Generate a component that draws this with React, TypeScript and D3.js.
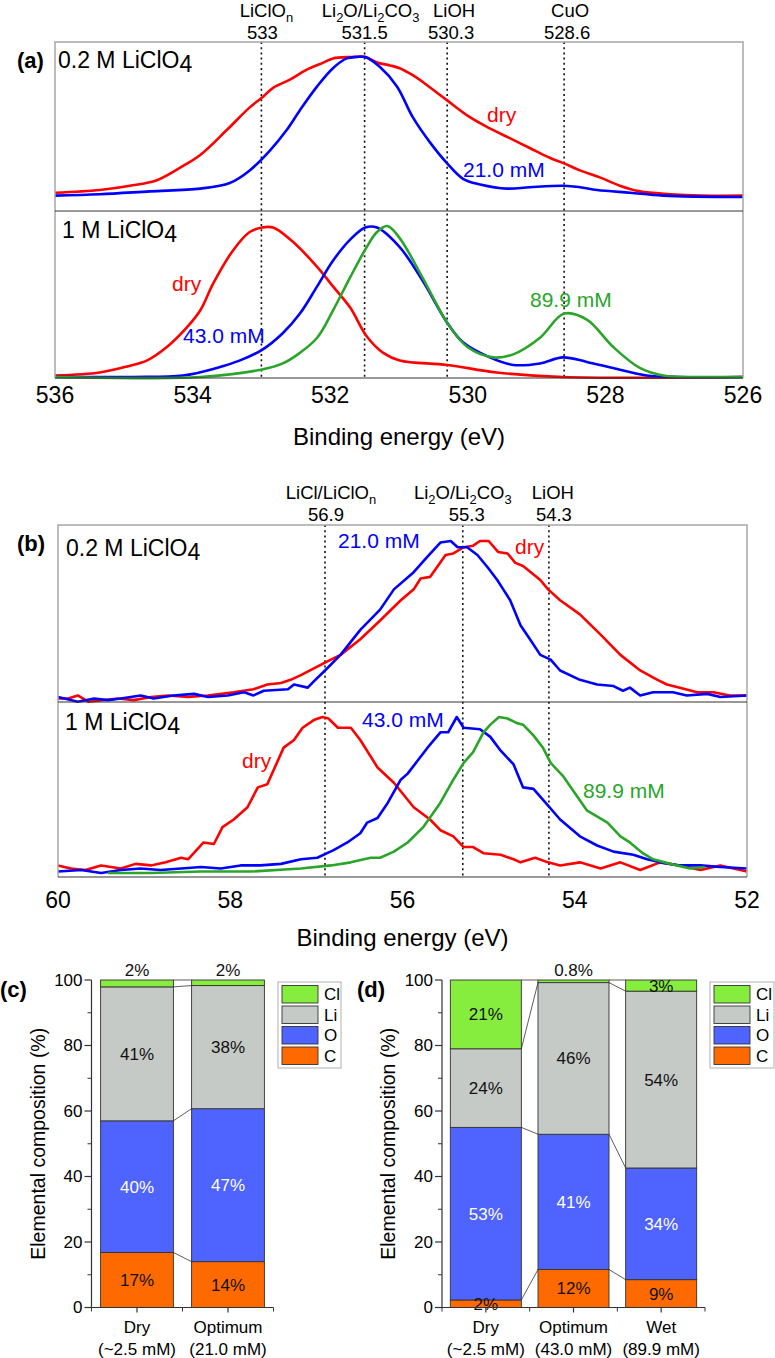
import React from 'react';
import * as d3 from 'd3';

const FONT = '"Liberation Sans", Arial, Helvetica, sans-serif';
const RED = '#ff0000';
const BLUE = '#0000ff';
const GREEN = '#2aa52a';

// ---------- Panel (a): O 1s ----------
const aTicks = [536, 534, 532, 530, 528, 526];
const aRefName = ['LiClO_n', 'Li_2O/Li_2CO_3', 'LiOH', 'CuO'];
const aRefEnergy = [533, 531.5, 530.3, 528.6];

const a02Dry: [number, number][] = [
  [536.0, 0.03], [535.35, 0.05], [534.91, 0.08], [534.52, 0.12], [534.18, 0.21], [533.89, 0.3],
  [533.5, 0.48], [533.17, 0.64], [532.99, 0.71], [532.83, 0.78], [532.58, 0.84], [532.34, 0.91],
  [532.1, 0.96], [531.96, 0.99], [531.71, 1.0], [531.49, 1.0], [531.32, 0.96], [531.13, 0.94],
  [530.99, 0.92], [530.8, 0.87], [530.65, 0.82], [530.3, 0.69], [529.97, 0.57], [529.68, 0.49],
  [529.39, 0.42], [529.1, 0.35], [528.81, 0.28], [528.6, 0.24], [528.37, 0.19], [528.08, 0.14],
  [527.79, 0.08], [527.5, 0.04], [527.06, 0.02], [526.62, 0.01], [526.0, 0.01],
];
const a02Opt: [number, number][] = [
  [536.0, 0.01], [535.35, 0.02], [534.62, 0.04], [533.89, 0.06], [533.46, 0.1], [533.17, 0.19],
  [532.88, 0.33], [532.63, 0.48], [532.44, 0.62], [532.19, 0.79], [531.96, 0.92], [531.76, 0.99],
  [531.61, 1.0], [531.49, 1.0], [531.28, 0.93], [531.03, 0.79], [530.8, 0.57], [530.55, 0.39],
  [530.3, 0.24], [530.07, 0.13], [529.82, 0.09], [529.43, 0.06], [529.1, 0.07], [528.6, 0.08],
  [528.37, 0.07], [528.12, 0.05], [527.64, 0.03], [527.16, 0.01], [526.0, 0.0],
];
const a1Dry: [number, number][] = [
  [536.0, 0.01], [535.35, 0.03], [534.95, 0.07], [534.66, 0.11], [534.37, 0.2], [534.08, 0.33],
  [533.89, 0.44], [533.7, 0.62], [533.41, 0.84], [533.17, 0.96], [532.99, 0.99], [532.83, 0.99],
  [532.58, 0.91], [532.19, 0.73], [531.96, 0.6], [531.71, 0.46], [531.47, 0.27], [531.23, 0.16],
  [530.99, 0.11], [530.3, 0.08], [529.58, 0.03], [528.62, 0.0], [526.0, 0.0],
];
const a1Opt: [number, number][] = [
  [536.0, 0.0], [534.87, 0.0], [534.14, 0.01], [533.65, 0.06], [533.31, 0.11], [532.99, 0.18],
  [532.69, 0.29], [532.44, 0.42], [532.19, 0.6], [531.96, 0.77], [531.71, 0.91], [531.49, 0.99],
  [531.32, 0.99], [530.99, 0.86], [530.66, 0.64], [530.3, 0.36], [530.07, 0.23], [529.68, 0.13],
  [529.34, 0.08], [528.95, 0.09], [528.62, 0.13], [528.27, 0.1], [527.89, 0.06], [527.4, 0.01],
  [526.92, 0.0], [526.0, 0.0],
];
const a1Wet: [number, number][] = [
  [536.0, 0.0], [533.89, 0.0], [532.99, 0.05], [532.69, 0.09], [532.44, 0.16], [532.19, 0.26],
  [531.96, 0.44], [531.71, 0.66], [531.47, 0.86], [531.32, 0.96], [531.17, 1.0], [530.99, 0.92],
  [530.66, 0.66], [530.3, 0.36], [530.01, 0.2], [529.63, 0.13], [529.34, 0.15], [528.95, 0.26],
  [528.6, 0.42], [528.27, 0.38], [527.89, 0.2], [527.5, 0.06], [527.16, 0.01], [526.44, 0.0],
  [526.0, 0.0],
];

// ---------- Panel (b): Li 1s ----------
const bTicks = [60, 58, 56, 54, 52];
const bRefName = ['LiCl/LiClO_n', 'Li_2O/Li_2CO_3', 'LiOH'];
const bRefEnergy = [56.9, 55.3, 54.3];

const b02Dry: [number, number][] = [
  [60.0, -0.01], [59.88, -0.01], [59.77, 0.01], [59.65, -0.03], [59.3, -0.01], [59.12, -0.02],
  [58.92, 0.0], [58.72, 0.01], [58.49, 0.0], [58.26, 0.01], [57.96, 0.03], [57.73, 0.05],
  [57.57, 0.08], [57.41, 0.09], [57.3, 0.11], [57.18, 0.14], [56.9, 0.22], [56.72, 0.27],
  [56.49, 0.37], [56.26, 0.49], [56.02, 0.62], [55.87, 0.69], [55.79, 0.76], [55.68, 0.77],
  [55.5, 0.91], [55.41, 0.92], [55.29, 0.96], [55.18, 0.97], [55.1, 1.0], [55.0, 1.0],
  [54.89, 0.93], [54.78, 0.92], [54.69, 0.86], [54.6, 0.84], [54.4, 0.75], [54.31, 0.69],
  [54.17, 0.62], [53.94, 0.53], [53.7, 0.4], [53.47, 0.27], [53.24, 0.17], [53.04, 0.11],
  [52.93, 0.08], [52.78, 0.06], [52.58, 0.03], [52.39, 0.03], [52.2, 0.01], [52.0, 0.01],
];
const b02Opt: [number, number][] = [
  [60.0, 0.0], [59.77, -0.03], [59.58, -0.01], [59.42, -0.02], [59.27, -0.01], [59.04, 0.01],
  [58.89, -0.01], [58.66, 0.01], [58.42, 0.02], [58.26, 0.0], [58.03, 0.01], [57.84, 0.03],
  [57.73, 0.01], [57.61, 0.04], [57.33, 0.05], [57.26, 0.08], [57.1, 0.06], [57.03, 0.1],
  [56.9, 0.17], [56.72, 0.27], [56.49, 0.43], [56.26, 0.56], [56.1, 0.69], [55.87, 0.8],
  [55.71, 0.9], [55.56, 0.99], [55.44, 1.0], [55.36, 0.96], [55.25, 0.96], [55.13, 0.91],
  [55.01, 0.83], [54.9, 0.75], [54.83, 0.69], [54.75, 0.62], [54.63, 0.46], [54.52, 0.37],
  [54.4, 0.27], [54.28, 0.24], [54.17, 0.17], [53.94, 0.11], [53.74, 0.08], [53.55, 0.07],
  [53.44, 0.04], [53.36, 0.06], [53.24, 0.01], [53.09, 0.03], [52.86, 0.03], [52.7, 0.01],
  [52.46, 0.02], [52.31, 0.0], [52.0, 0.01],
];
const b1Dry: [number, number][] = [
  [60.0, 0.03], [59.85, 0.01], [59.68, 0.0], [59.5, 0.03], [59.27, 0.01], [59.1, 0.04],
  [58.92, 0.03], [58.75, 0.05], [58.57, 0.08], [58.49, 0.07], [58.31, 0.18], [58.19, 0.17],
  [58.09, 0.28], [57.96, 0.33], [57.8, 0.41], [57.68, 0.54], [57.57, 0.56], [57.38, 0.8],
  [57.26, 0.85], [57.16, 0.93], [57.03, 0.98], [56.93, 1.0], [56.86, 0.99], [56.75, 0.93],
  [56.6, 0.93], [56.49, 0.85], [56.29, 0.67], [56.1, 0.57], [55.87, 0.41], [55.68, 0.33],
  [55.56, 0.26], [55.41, 0.22], [55.29, 0.15], [55.18, 0.15], [55.06, 0.11], [54.86, 0.1],
  [54.71, 0.07], [54.63, 0.05], [54.46, 0.08], [54.31, 0.05], [54.17, 0.03], [53.94, 0.05],
  [53.7, 0.01], [53.47, 0.05], [53.24, 0.0], [53.01, 0.05], [52.78, 0.03], [52.54, 0.0],
  [52.31, 0.03], [52.0, -0.01],
];
const b1Opt: [number, number][] = [
  [60.0, -0.01], [59.73, 0.0], [59.5, -0.02], [59.27, 0.0], [59.04, 0.01], [58.81, 0.0],
  [58.57, 0.01], [58.34, 0.02], [58.11, 0.01], [57.88, 0.03], [57.65, 0.03], [57.41, 0.04],
  [57.18, 0.07], [56.99, 0.08], [56.8, 0.13], [56.64, 0.18], [56.49, 0.24], [56.41, 0.31],
  [56.29, 0.34], [56.17, 0.44], [56.02, 0.59], [55.94, 0.63], [55.79, 0.74], [55.68, 0.82],
  [55.56, 0.9], [55.47, 0.9], [55.37, 1.0], [55.29, 0.93], [55.1, 0.92], [54.98, 0.87],
  [54.86, 0.78], [54.71, 0.69], [54.6, 0.54], [54.48, 0.53], [54.37, 0.46], [54.17, 0.33],
  [53.94, 0.22], [53.74, 0.16], [53.55, 0.12], [53.32, 0.1], [53.16, 0.07], [53.01, 0.05],
  [52.78, 0.03], [52.54, 0.03], [52.31, 0.02], [52.0, 0.01],
];
const b1Wet: [number, number][] = [
  [59.42, -0.02], [58.92, -0.02], [58.34, -0.01], [57.76, -0.01], [57.18, 0.01], [56.83, 0.03],
  [56.6, 0.05], [56.37, 0.08], [56.26, 0.08], [56.1, 0.12], [55.94, 0.18], [55.76, 0.28],
  [55.56, 0.44], [55.41, 0.59], [55.29, 0.7], [55.18, 0.77], [55.06, 0.9], [54.98, 0.95],
  [54.88, 1.0], [54.78, 0.99], [54.67, 0.96], [54.6, 0.95], [54.48, 0.88], [54.37, 0.8],
  [54.28, 0.7], [54.13, 0.61], [54.02, 0.52], [53.86, 0.39], [53.62, 0.31], [53.47, 0.22],
  [53.36, 0.18], [53.21, 0.11], [53.09, 0.07], [52.89, 0.04], [52.66, 0.01], [52.49, 0.02],
];

// ---------- Panels (c), (d): elemental composition (%) ----------
const elements = ['C', 'O', 'Li', 'Cl'];
const elementColors = ['#ff6a00', '#4f63ff', '#c6cac7', '#86ec3e'];

const cCats = ['Dry', 'Optimum'];
const cCatSub = ['(~2.5 mM)', '(21.0 mM)'];
const cC = [16.8, 14.0];
const cO = [40.2, 46.7];
const cLi = [40.9, 37.6];
const cCl = [2.1, 1.7];

const dCats = ['Dry', 'Optimum', 'Wet'];
const dCatSub = ['(~2.5 mM)', '(43.0 mM)', '(89.9 mM)'];
const dC = [2.3, 11.6, 8.5];
const dO = [52.7, 41.3, 34.1];
const dLi = [24.0, 46.3, 54.0];
const dCl = [21.0, 0.8, 3.4];

const compTicks = [0, 20, 40, 60, 80, 100];
const compMinor = [10, 30, 50, 70, 90];

// ---------- helpers ----------
function Rich({ text, x, y, size, anchor = 'middle', fill = '#000', weight = 'normal', subShift = 0.3 }: any) {
  const parts: { t: string; mode: string }[] = [];
  let i = 0;
  while (i < text.length) {
    if ((text[i] === '_' || text[i] === '|') && i + 1 < text.length) {
      parts.push({ t: text[i + 1], mode: text[i] === '_' ? 'sub' : 'low' });
      i += 2;
    } else {
      let j = i;
      while (j < text.length && text[j] !== '_' && text[j] !== '|') j++;
      parts.push({ t: text.slice(i, j), mode: 'n' });
      i = j;
    }
  }
  let shift = 0;
  return (
    <text x={x} y={y} fontSize={size} textAnchor={anchor} fill={fill} fontWeight={weight} fontFamily={FONT}>
      {parts.map((p, k) => {
        const target = p.mode === 'sub' ? size * subShift : p.mode === 'low' ? size * 0.17 : 0;
        const dy = target - shift;
        shift = target;
        return (
          <tspan key={k} dy={dy} fontSize={p.mode === 'sub' ? size * 0.7 : size}>
            {p.t}
          </tspan>
        );
      })}
    </text>
  );
}

function SpectrumPanel({ cfg }: any) {
  const xs = d3.scaleLinear().domain(cfg.domain).range([cfg.x0, cfg.x1]);
  const subs = cfg.subs;
  const elems: any[] = [];
  subs.forEach((s: any, si: number) => {
    const ys = d3.scaleLinear().domain([0, 1]).range([s.y0, s.y1]);
    const line = d3
      .line<[number, number]>()
      .x((d) => xs(d[0]))
      .y((d) => ys(d[1]))
      .curve(cfg.smooth ? d3.curveCatmullRom.alpha(0.5) : d3.curveLinear);
    s.series.forEach((ser: any, k: number) => {
      elems.push(
        <path key={`p${si}-${k}`} d={line(ser.data) || ''} fill="none" stroke={ser.color} strokeWidth={2.6} strokeLinejoin="round" />
      );
    });
  });
  return (
    <g>
      {cfg.refE.map((e: number, i: number) => (
        <line key={`r${i}`} x1={xs(e)} x2={xs(e)} y1={cfg.top} y2={cfg.bottom} stroke="#111" strokeWidth={1.6} strokeDasharray="2,3.2" />
      ))}
      {elems}
      <path d={`M${cfg.x0},${cfg.bottom}V${cfg.top}H${cfg.x1}V${cfg.bottom}`} fill="none" stroke="#a6a6a6" strokeWidth={1.5} />
      <line x1={cfg.x0} x2={cfg.x1} y1={cfg.mid} y2={cfg.mid} stroke="#333" strokeWidth={1.2} />
      <line x1={cfg.x0} x2={cfg.x1} y1={cfg.bottom} y2={cfg.bottom} stroke="#333" strokeWidth={1.2} />
      {cfg.refE.map((e: number, i: number) => (
        <g key={`rl${i}`}>
          <Rich text={cfg.refN[i]} x={xs(e) + cfg.refDxName[i]} y={cfg.refNameY} size={18.5} subShift={0.25} />
          <text x={xs(e) + cfg.refDxNum[i]} y={cfg.refNumY} fontSize={18.5} textAnchor="middle" fontFamily={FONT}>
            {String(e)}
          </text>
        </g>
      ))}
      {cfg.ticks.map((t: number) => (
        <text key={`t${t}`} x={xs(t)} y={cfg.tickY} fontSize={23} textAnchor="middle" fontFamily={FONT}>
          {t}
        </text>
      ))}
      <text x={(cfg.x0 + cfg.x1) / 2} y={cfg.titleY} fontSize={24} textAnchor="middle" fontFamily={FONT}>
        Binding energy (eV)
      </text>
      <text x={cfg.tagX} y={cfg.tagY} fontSize={22} fontWeight="bold" fontFamily={FONT}>
        {cfg.tag}
      </text>
      {subs.map((s: any, si: number) => (
        <g key={`s${si}`}>
          <Rich text={s.name} x={s.nameX} y={s.nameY} size={23} anchor="start" />
          {s.series.map((ser: any, k: number) => (
            <text key={k} x={ser.tx} y={ser.ty} fontSize={21} fill={ser.color} fontFamily={FONT}>
              {ser.label}
            </text>
          ))}
        </g>
      ))}
    </g>
  );
}

function fmtPct(v: number) {
  return v < 1 ? `${v.toFixed(1)}%` : `${Math.round(v)}%`;
}

function CompPanel({ cfg }: any) {
  const n = cfg.cats.length;
  const xs = d3.scalePoint<number>().domain(d3.range(n)).range([cfg.xa, cfg.xb]).padding(0.5);
  const step = xs.step();
  const bw = step * cfg.barFrac;
  const ys = d3.scaleLinear().domain([0, 100]).range([cfg.yBottom, cfg.yTop]);
  const stacks = cfg.cats.map((_: string, i: number) => {
    let cum = 0;
    return cfg.values.map((arr: number[]) => {
      const s = { lo: cum, hi: cum + arr[i], v: arr[i] };
      cum += arr[i];
      return s;
    });
  });
  const items: any[] = [];
  stacks.forEach((st: any[], i: number) => {
    const cx = xs(i) as number;
    st.forEach((seg: any, k: number) => {
      items.push(
        <rect key={`b${i}-${k}`} x={cx - bw / 2} y={ys(seg.hi)} width={bw} height={ys(seg.lo) - ys(seg.hi)} fill={elementColors[k]} stroke="#333" strokeWidth={0.9} />
      );
    });
  });
  const connectors: any[] = [];
  for (let i = 0; i < n - 1; i++) {
    const xA = (xs(i) as number) + bw / 2;
    const xB = (xs(i + 1) as number) - bw / 2;
    elements.forEach((_, k) => {
      connectors.push(
        <line key={`c${i}-${k}`} x1={xA} x2={xB} y1={ys(stacks[i][k].hi)} y2={ys(stacks[i + 1][k].hi)} stroke="#333" strokeWidth={0.8} />
      );
    });
  }
  const labels: any[] = [];
  stacks.forEach((st: any[], i: number) => {
    const cx = xs(i) as number;
    st.forEach((seg: any, k: number) => {
      const above = k === elements.length - 1 && seg.v < 2.5;
      const y = above ? ys(100) - 10 : ys((seg.lo + seg.hi) / 2);
      labels.push(
        <text key={`l${i}-${k}`} x={cx} y={y} dy="0.35em" fontSize={17} textAnchor="middle" fill={elements[k] === 'O' ? '#fff' : '#111'} fontFamily={FONT}>
          {fmtPct(seg.v)}
        </text>
      );
    });
  });
  const ticksX: number[] = [];
  for (let i = 0; i <= n; i++) ticksX.push(cfg.xa + i * step);
  const legendOrder = [3, 2, 1, 0];
  return (
    <g fontFamily={FONT}>
      {items}
      {connectors}
      {labels}
      <line x1={cfg.xa} x2={cfg.xa} y1={cfg.yBottom} y2={cfg.yTop} stroke="#333" strokeWidth={1.2} />
      <line x1={cfg.xa} x2={cfg.xb} y1={cfg.yBottom} y2={cfg.yBottom} stroke="#333" strokeWidth={1.2} />
      {compTicks.map((t) => (
        <g key={`yt${t}`}>
          <line x1={cfg.xa - 7} x2={cfg.xa} y1={ys(t)} y2={ys(t)} stroke="#333" strokeWidth={1.2} />
          <text x={cfg.xa - 9} y={ys(t)} dy="0.35em" fontSize={17} textAnchor="end">
            {t}
          </text>
        </g>
      ))}
      {compMinor.map((t) => (
        <line key={`ym${t}`} x1={cfg.xa - 4} x2={cfg.xa} y1={ys(t)} y2={ys(t)} stroke="#333" strokeWidth={1} />
      ))}
      {ticksX.map((x, i) => (
        <line key={`xb${i}`} x1={x} x2={x} y1={cfg.yBottom} y2={cfg.yBottom + 4} stroke="#333" strokeWidth={1} />
      ))}
      {cfg.cats.map((c: string, i: number) => (
        <g key={`xc${i}`}>
          <line x1={xs(i)} x2={xs(i)} y1={cfg.yBottom} y2={cfg.yBottom + 5} stroke="#333" strokeWidth={1.2} />
          <text x={xs(i)} y={cfg.catY} fontSize={17} textAnchor="middle">
            {c}
          </text>
          <text x={xs(i)} y={cfg.catY + 22} fontSize={17} textAnchor="middle">
            {cfg.catSub[i]}
          </text>
        </g>
      ))}
      <text transform={`translate(${cfg.titleX},${(cfg.yTop + cfg.yBottom) / 2}) rotate(-90)`} fontSize={19.5} textAnchor="middle" dy="0.35em">
        Elemental composition (%)
      </text>
      <text x={cfg.tagX} y={cfg.tagY} fontSize={22} fontWeight="bold">
        {cfg.tag}
      </text>
      <rect x={cfg.legX} y={cfg.legY} width={cfg.legW} height={86} fill="#fff" stroke="#b0b0b0" strokeWidth={1} />
      {legendOrder.map((k, j) => (
        <g key={`lg${k}`}>
          <rect x={cfg.legX + 4} y={cfg.legY + 3.5 + j * 20.5} width={36} height={17.5} fill={elementColors[k]} stroke="#333" strokeWidth={0.9} />
          <text x={cfg.legX + 46} y={cfg.legY + 12.5 + j * 20.5} dy="0.35em" fontSize={17}>
            {elements[k]}
          </text>
        </g>
      ))}
    </g>
  );
}

const panelA = {
  tag: '(a)', tagX: 17, tagY: 68,
  domain: [536, 526], ticks: aTicks, refE: aRefEnergy, refN: aRefName,
  refDxName: [5, 6, 7, 6], refDxNum: [1, 0, 4, 3],
  x0: 55, x1: 743, top: 42, mid: 211, bottom: 378,
  refNameY: 17, refNumY: 39, tickY: 403, titleY: 445, smooth: true,
  subs: [
    {
      y0: 197, y1: 57, name: '0.2 M LiClO|4', nameX: 58, nameY: 68,
      series: [
        { data: a02Dry, color: RED, label: 'dry', tx: 487, ty: 122 },
        { data: a02Opt, color: BLUE, label: '21.0 mM', tx: 463, ty: 177 },
      ],
    },
    {
      y0: 377, y1: 226, name: '1 M LiClO|4', nameX: 62, nameY: 238,
      series: [
        { data: a1Dry, color: RED, label: 'dry', tx: 172, ty: 291 },
        { data: a1Opt, color: BLUE, label: '43.0 mM', tx: 183, ty: 343 },
        { data: a1Wet, color: GREEN, label: '89.9 mM', tx: 530, ty: 307 },
      ],
    },
  ],
};

const panelB = {
  tag: '(b)', tagX: 17, tagY: 551,
  domain: [60, 52], ticks: bTicks, refE: bRefEnergy, refN: bRefName,
  refDxName: [6, 0, 4], refDxNum: [1, 4, 5],
  x0: 58, x1: 747, top: 525, mid: 702, bottom: 877,
  refNameY: 499, refNumY: 521, tickY: 908, titleY: 946, smooth: false,
  subs: [
    {
      y0: 697, y1: 541, name: '0.2 M LiClO|4', nameX: 66, nameY: 556,
      series: [
        { data: b02Dry, color: RED, label: 'dry', tx: 515, ty: 554 },
        { data: b02Opt, color: BLUE, label: '21.0 mM', tx: 338, ty: 548 },
      ],
    },
    {
      y0: 870, y1: 717, name: '1 M LiClO|4', nameX: 65, nameY: 730,
      series: [
        { data: b1Dry, color: RED, label: 'dry', tx: 242, ty: 768 },
        { data: b1Opt, color: BLUE, label: '43.0 mM', tx: 362, ty: 727 },
        { data: b1Wet, color: GREEN, label: '89.9 mM', tx: 583, ty: 798 },
      ],
    },
  ],
};

const panelC = {
  tag: '(c)', tagX: 0, tagY: 997, titleX: 38,
  cats: cCats, catSub: cCatSub, values: [cC, cO, cLi, cCl],
  xa: 91.5, xb: 273.5, barFrac: 0.8, yTop: 980, yBottom: 1307.5, catY: 1333,
  legX: 278, legY: 982, legW: 63,
};

const panelD = {
  tag: '(d)', tagX: 357, tagY: 997, titleX: 388,
  cats: dCats, catSub: dCatSub, values: [dC, dO, dLi, dCl],
  xa: 442, xb: 705, barFrac: 0.81, yTop: 980, yBottom: 1307.5, catY: 1333,
  legX: 710, legY: 982, legW: 64,
};

export default function App() {
  return (
    <svg width={775} height={1358} viewBox="0 0 775 1358" style={{ position: 'absolute', left: 0, top: 0, background: '#fff' }}>
      <rect x={0} y={0} width={775} height={1358} fill="#fff" />
      <SpectrumPanel cfg={panelA} />
      <SpectrumPanel cfg={panelB} />
      <CompPanel cfg={panelC} />
      <CompPanel cfg={panelD} />
    </svg>
  );
}
